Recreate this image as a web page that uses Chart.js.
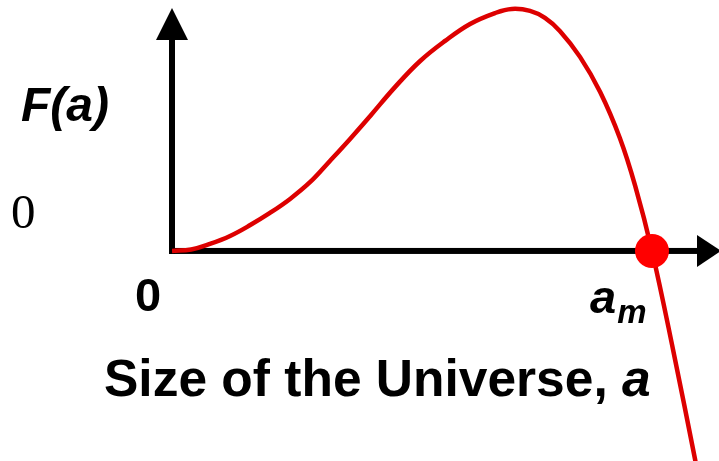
<!DOCTYPE html>
<html>
<head>
<meta charset="utf-8">
<script src="https://cdn.jsdelivr.net/npm/chart.js@4/dist/chart.umd.min.js"></script>
<style>
  html, body { margin: 0; padding: 0; background: #fff; }
  .wrap { position: relative; width: 719px; height: 461px; overflow: hidden; }
  canvas { position: absolute; left: 0; top: 0; }
  .lbl { position: absolute; line-height: 1; white-space: nowrap; color: #000; font-family: "Liberation Sans", Arial, sans-serif; font-weight: bold; }
  .fa { left: 21px; top: 81px; font-size: 48px; font-style: italic; }
  .zero-y { left: 11px; top: 187px; font-size: 49px; font-family: "Liberation Serif", "Times New Roman", serif; font-weight: normal; }
  .zero-x { left: 135px; top: 271px; font-size: 47px; }
  .am { left: 590px; top: 273px; font-size: 47px; font-style: italic; }
  .am sub { font-size: 33px; vertical-align: -10px; margin-left: 1px; }
  .title { left: 104px; top: 353px; font-size: 51.5px; }
  .title i { font-style: italic; }
</style>
</head>
<body>
<div class="wrap">
  <canvas id="universeChart" width="719" height="461"></canvas>
  <div class="lbl fa">F(a)</div>
  <div class="lbl zero-y">0</div>
  <div class="lbl zero-x">0</div>
  <div class="lbl am">a<sub>m</sub></div>
  <div class="lbl title">Size of the Universe, <i>a</i></div>
</div>
<script>
  // curve samples: size a (a_m = 1) and F(a), peak normalised to 1
  const sizeA  = [0, 0.040, 0.079, 0.121, 0.163, 0.204, 0.246, 0.288, 0.329, 0.371, 0.413, 0.465, 0.517, 0.569, 0.621, 0.673, 0.708, 0.746, 0.777, 0.808, 0.850, 0.892, 0.933, 0.965, 1, 1.044, 1.090, 1.100];
  const valueF = [0, 0.006, 0.029, 0.062, 0.107, 0.157, 0.215, 0.285, 0.372, 0.463, 0.558, 0.678, 0.785, 0.868, 0.938, 0.983, 1.000, 0.992, 0.963, 0.909, 0.802, 0.657, 0.467, 0.269, 0, -0.409, -0.864, -0.967];
  // turning point a_m where F(a) = 0
  const turnA = [1];
  const turnF = [0];

  // thick black axes with arrow heads, drawn under the curve
  const arrowAxes = {
    id: 'arrowAxes',
    beforeDatasetsDraw(chart) {
      const ctx = chart.ctx;
      const x0 = chart.scales.x.getPixelForValue(0);
      const y0 = chart.scales.y.getPixelForValue(0);
      ctx.save();
      ctx.fillStyle = '#000';
      // vertical axis
      ctx.fillRect(x0 - 3, 38, 6, y0 + 3 - 38);
      ctx.beginPath();
      ctx.moveTo(x0 - 16, 40);
      ctx.lineTo(x0 + 16, 40);
      ctx.lineTo(x0, 8);
      ctx.closePath();
      ctx.fill();
      // horizontal axis
      ctx.fillRect(x0 - 3, y0 - 3, 699 - (x0 - 3), 6);
      ctx.beginPath();
      ctx.moveTo(697, y0 - 16);
      ctx.lineTo(697, y0 + 16);
      ctx.lineTo(721, y0);
      ctx.closePath();
      ctx.fill();
      ctx.restore();
    }
  };

  const ctx = document.getElementById('universeChart').getContext('2d');
  new Chart(ctx, {
    type: 'line',
    data: {
      datasets: [
        {
          data: turnA.map((a, i) => ({ x: a, y: turnF[i] })),
          showLine: false,
          pointRadius: 17,
          pointBackgroundColor: '#ff0000',
          pointBorderWidth: 0,
          order: 0
        },
        {
          data: sizeA.map((a, i) => ({ x: a, y: valueF[i] })),
          borderColor: '#dd0000',
          borderWidth: 4.5,
          pointRadius: 0,
          tension: 0.4,
          fill: false,
          order: 1
        }
      ]
    },
    options: {
      responsive: false,
      animation: false,
      layout: { autoPadding: false, padding: { left: 172, right: 0, top: 0, bottom: 0 } },
      plugins: { legend: { display: false }, tooltip: { enabled: false } },
      scales: {
        x: { type: 'linear', display: false, min: 0, max: 1.1396 },
        y: { type: 'linear', display: false, min: -0.868, max: 1.037 }
      }
    },
    plugins: [arrowAxes]
  });
</script>
</body>
</html>
